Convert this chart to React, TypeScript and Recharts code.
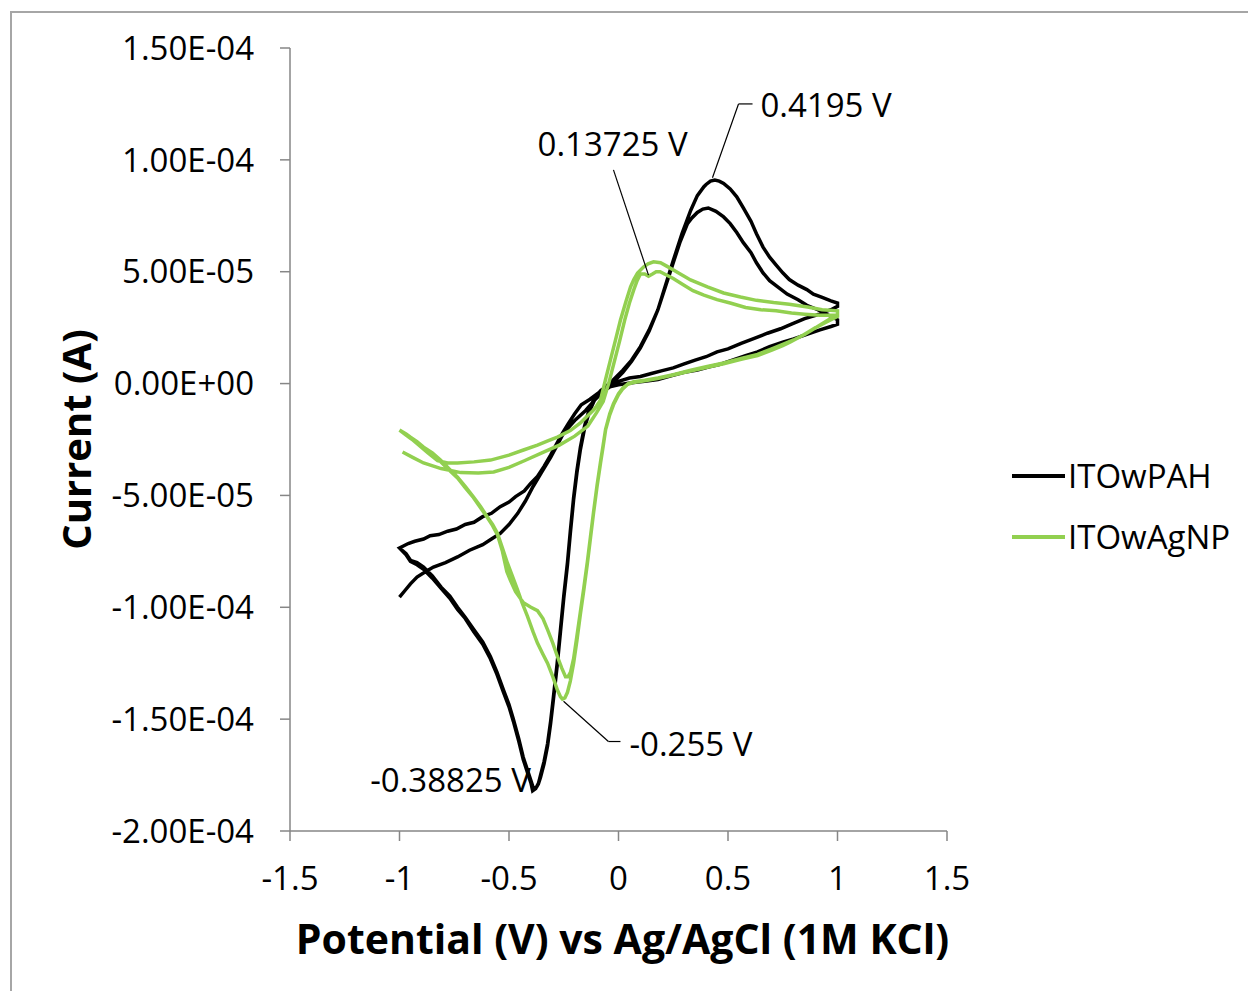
import React from 'react';
import { LineChart, Line, XAxis, YAxis, ReferenceLine, ReferenceDot, Legend, Label } from 'recharts';

const FONT = '"Open Sans", sans-serif';
const AMP = 1e-5; // current values below are in units of 1e-5 A

// [potential (V vs Ag/AgCl), current (1e-5 A)]
const PAH_CYCLE_1: [number, number][] = [
  [-1.0, -7.35], [-0.97, -7.6], [-0.95, -7.9], [-0.92, -8.0], [-0.89, -8.2], [-0.85, -8.6],
  [-0.81, -9.1], [-0.77, -9.5], [-0.735, -10.0], [-0.7, -10.45], [-0.66, -11.0], [-0.62, -11.55],
  [-0.585, -12.2], [-0.555, -12.9], [-0.525, -13.7], [-0.5, -14.35], [-0.48, -15.0], [-0.455, -15.9],
  [-0.435, -16.7], [-0.415, -17.3], [-0.4, -17.75], [-0.388, -18.1], [-0.375, -18.05], [-0.365, -17.85],
  [-0.356, -17.5], [-0.34, -16.9], [-0.324, -16.1], [-0.31, -15.1], [-0.297, -14.0], [-0.28, -12.5],
  [-0.265, -11.0], [-0.25, -9.5], [-0.233, -8.0], [-0.22, -6.6], [-0.205, -5.1], [-0.19, -3.9],
  [-0.174, -2.85], [-0.155, -1.9], [-0.135, -1.2], [-0.11, -0.65], [-0.08, -0.3], [-0.04, -0.05],
  [0.0, 0.1], [0.05, 0.25], [0.1, 0.32], [0.15, 0.45], [0.2, 0.58], [0.25, 0.7], [0.3, 0.88],
  [0.35, 1.05], [0.4, 1.2], [0.45, 1.42], [0.5, 1.55], [0.56, 1.8], [0.62, 2.02], [0.68, 2.25],
  [0.74, 2.45], [0.79, 2.66], [0.85, 2.9], [0.9, 3.05], [0.97, 3.3], [1.0, 3.45],
  [1.0, 3.6], [0.97, 3.7], [0.93, 3.85], [0.89, 4.0], [0.86, 4.2], [0.82, 4.4], [0.78, 4.65],
  [0.75, 4.95], [0.72, 5.3], [0.69, 5.65], [0.66, 6.1], [0.63, 6.7], [0.605, 7.25], [0.57, 7.85],
  [0.54, 8.35], [0.51, 8.7], [0.48, 8.95], [0.46, 9.05], [0.44, 9.1], [0.42, 9.05], [0.4, 8.9],
  [0.39, 8.8], [0.36, 8.4], [0.33, 7.75], [0.29, 6.7], [0.25, 5.5], [0.215, 4.4], [0.18, 3.3],
  [0.14, 2.4], [0.1, 1.65], [0.06, 1.05], [0.02, 0.6], [-0.03, 0.1], [-0.09, -0.4], [-0.13, -0.7],
  [-0.17, -0.95], [-0.2, -1.35], [-0.23, -1.8], [-0.255, -2.2], [-0.28, -2.65], [-0.31, -3.2],
  [-0.34, -3.7], [-0.37, -4.15], [-0.4, -4.45], [-0.43, -4.8], [-0.47, -5.05], [-0.5, -5.3],
  [-0.54, -5.5], [-0.58, -5.8], [-0.62, -5.95], [-0.66, -6.2], [-0.7, -6.3], [-0.74, -6.5],
  [-0.78, -6.6], [-0.82, -6.75], [-0.86, -6.8], [-0.89, -6.95], [-0.93, -7.05], [-0.96, -7.15],
  [-1.0, -7.35],
];

const PAH_CYCLE_2: [number, number][] = [
  [-1.0, -7.35], [-0.97, -7.65], [-0.95, -7.95], [-0.92, -8.1], [-0.89, -8.3], [-0.85, -8.7],
  [-0.81, -9.15], [-0.77, -9.6], [-0.735, -10.1], [-0.7, -10.5], [-0.66, -11.1], [-0.62, -11.65],
  [-0.585, -12.3], [-0.555, -13.0], [-0.525, -13.8], [-0.5, -14.45], [-0.48, -15.1], [-0.455, -16.0],
  [-0.435, -16.8], [-0.415, -17.4], [-0.4, -17.85], [-0.392, -18.2], [-0.378, -18.1], [-0.366, -17.9],
  [-0.356, -17.6], [-0.34, -17.0], [-0.324, -16.2], [-0.31, -15.2], [-0.297, -14.1], [-0.28, -12.6],
  [-0.265, -11.1], [-0.25, -9.6], [-0.233, -8.1], [-0.22, -6.7], [-0.205, -5.2], [-0.19, -4.0],
  [-0.174, -2.95], [-0.155, -2.0], [-0.135, -1.3], [-0.11, -0.75], [-0.08, -0.4], [-0.04, -0.15],
  [0.0, -0.05], [0.07, 0.05], [0.12, 0.1], [0.18, 0.18], [0.24, 0.35], [0.3, 0.5], [0.36, 0.6],
  [0.41, 0.74], [0.46, 0.85], [0.52, 1.05], [0.58, 1.25], [0.635, 1.42], [0.69, 1.65], [0.75, 1.85],
  [0.8, 2.0], [0.86, 2.2], [0.92, 2.4], [0.97, 2.55], [1.0, 2.65],
  [1.0, 2.85], [0.95, 3.1], [0.91, 3.3], [0.86, 3.5], [0.82, 3.75], [0.77, 4.0], [0.73, 4.3],
  [0.69, 4.6], [0.66, 4.95], [0.63, 5.4], [0.605, 5.85], [0.57, 6.3], [0.54, 6.75], [0.51, 7.15],
  [0.48, 7.45], [0.445, 7.7], [0.41, 7.85], [0.385, 7.8], [0.36, 7.65], [0.335, 7.4], [0.315, 7.15],
  [0.28, 6.3], [0.25, 5.4], [0.215, 4.35], [0.18, 3.3], [0.14, 2.35], [0.1, 1.6], [0.06, 1.0],
  [0.02, 0.5], [-0.03, 0.0], [-0.07, -0.35], [-0.11, -0.75], [-0.15, -1.2], [-0.2, -1.65],
  [-0.25, -2.2], [-0.28, -2.75], [-0.31, -3.3], [-0.35, -3.95], [-0.39, -4.6], [-0.425, -5.25],
  [-0.46, -5.8], [-0.5, -6.3], [-0.54, -6.7], [-0.58, -6.95], [-0.62, -7.2], [-0.68, -7.45],
  [-0.735, -7.75], [-0.79, -8.0], [-0.845, -8.2], [-0.88, -8.4], [-0.92, -8.65], [-0.95, -8.95],
  [-0.975, -9.25], [-1.0, -9.55],
];

const AGNP_CYCLE_1: [number, number][] = [
  [-1.0, -2.08], [-0.97, -2.25], [-0.95, -2.4], [-0.92, -2.6], [-0.89, -2.84], [-0.85, -3.1],
  [-0.813, -3.42], [-0.775, -3.8], [-0.735, -4.18], [-0.7, -4.6], [-0.662, -5.07], [-0.63, -5.5],
  [-0.598, -5.97], [-0.575, -6.3], [-0.553, -6.69], [-0.53, -7.35], [-0.507, -8.03], [-0.485, -8.6],
  [-0.461, -9.22], [-0.44, -9.8], [-0.416, -10.4], [-0.39, -11.1], [-0.37, -11.6], [-0.345, -12.1],
  [-0.324, -12.5], [-0.3, -13.1], [-0.279, -13.7], [-0.265, -14.0], [-0.256, -14.1], [-0.245, -14.05],
  [-0.233, -13.8], [-0.22, -13.3], [-0.205, -12.5], [-0.19, -11.5], [-0.174, -10.3], [-0.158, -9.2],
  [-0.142, -8.03], [-0.128, -6.9], [-0.114, -5.79], [-0.098, -4.6], [-0.082, -3.55], [-0.07, -2.8],
  [-0.059, -2.07], [-0.04, -1.4], [-0.023, -0.95], [0.0, -0.5], [0.018, -0.25], [0.04, -0.05],
  [0.068, 0.05], [0.12, 0.12], [0.178, 0.22], [0.25, 0.38], [0.329, 0.56], [0.4, 0.72], [0.48, 0.88],
  [0.56, 1.08], [0.635, 1.25], [0.7, 1.5], [0.75, 1.7], [0.785, 1.86], [0.84, 2.15], [0.9, 2.5],
  [0.95, 2.8], [1.0, 3.1],
  [1.0, 3.25], [0.93, 3.3], [0.863, 3.42], [0.78, 3.55], [0.708, 3.62], [0.63, 3.72], [0.557, 3.87],
  [0.48, 4.05], [0.406, 4.32], [0.329, 4.63], [0.29, 4.85], [0.251, 5.08], [0.22, 5.25], [0.192, 5.4],
  [0.16, 5.44], [0.135, 5.35], [0.114, 5.21], [0.087, 4.94], [0.07, 4.65], [0.055, 4.32], [0.035, 3.7],
  [0.009, 2.84], [-0.015, 1.9], [-0.037, 1.05], [-0.06, 0.15], [-0.082, -0.73], [-0.1, -1.0],
  [-0.114, -1.18], [-0.174, -1.76], [-0.22, -2.1], [-0.279, -2.39], [-0.32, -2.55], [-0.37, -2.75],
  [-0.434, -2.97], [-0.5, -3.2], [-0.584, -3.42], [-0.66, -3.5], [-0.735, -3.55], [-0.78, -3.55],
  [-0.826, -3.45], [-0.87, -3.1], [-0.918, -2.7], [-0.96, -2.35], [-1.0, -2.08],
];

const AGNP_CYCLE_2: [number, number][] = [
  [-1.0, -2.08], [-0.97, -2.3], [-0.95, -2.45], [-0.92, -2.65], [-0.89, -2.9], [-0.85, -3.15],
  [-0.813, -3.48], [-0.775, -3.85], [-0.735, -4.22], [-0.7, -4.65], [-0.662, -5.1], [-0.63, -5.55],
  [-0.598, -6.0], [-0.575, -6.35], [-0.553, -6.75], [-0.53, -7.5], [-0.51, -8.4], [-0.493, -8.8],
  [-0.47, -9.3], [-0.434, -9.8], [-0.4, -10.0], [-0.37, -10.15], [-0.345, -10.5], [-0.324, -11.0],
  [-0.3, -11.6], [-0.279, -12.2], [-0.26, -12.7], [-0.242, -13.1], [-0.23, -13.1], [-0.219, -12.9],
  [-0.205, -12.3], [-0.19, -11.3], [-0.174, -10.2], [-0.158, -9.1], [-0.142, -7.95], [-0.128, -6.85],
  [-0.114, -5.75], [-0.098, -4.55], [-0.082, -3.5], [-0.07, -2.75], [-0.059, -2.05], [-0.04, -1.35],
  [-0.023, -0.9], [0.0, -0.45], [0.02, -0.2], [0.045, 0.0], [0.07, 0.08], [0.12, 0.15], [0.18, 0.25],
  [0.25, 0.4], [0.33, 0.6], [0.4, 0.75], [0.48, 0.92], [0.56, 1.12], [0.635, 1.3], [0.7, 1.55],
  [0.75, 1.75], [0.8, 1.95], [0.85, 2.2], [0.9, 2.5], [0.95, 2.75], [1.0, 3.0],
  [1.0, 3.05], [0.92, 3.05], [0.85, 3.1], [0.79, 3.15], [0.72, 3.25], [0.65, 3.3], [0.58, 3.4],
  [0.51, 3.6], [0.45, 3.75], [0.39, 3.95], [0.34, 4.15], [0.29, 4.45], [0.25, 4.7], [0.21, 4.9],
  [0.19, 5.0], [0.172, 5.0], [0.155, 4.9], [0.137, 4.8], [0.12, 4.9], [0.1, 4.9], [0.085, 4.6],
  [0.07, 4.2], [0.05, 3.6], [0.03, 2.9], [0.005, 1.9], [-0.02, 0.95], [-0.045, 0.0], [-0.07, -0.8],
  [-0.1, -1.3], [-0.14, -1.9], [-0.2, -2.35], [-0.27, -2.75], [-0.35, -3.1], [-0.43, -3.45],
  [-0.5, -3.75], [-0.57, -3.95], [-0.64, -4.0], [-0.72, -3.98], [-0.81, -3.8], [-0.89, -3.55],
  [-0.94, -3.3], [-0.986, -3.06],
];

const X_TICKS = [-1.5, -1, -0.5, 0, 0.5, 1, 1.5];
const Y_TICKS = [-2e-4, -1.5e-4, -1e-4, -5e-5, 0, 5e-5, 1e-4, 1.5e-4];

const SERIES = [
  { name: 'ITOwPAH', color: '#000000', cycles: [PAH_CYCLE_1, PAH_CYCLE_2] },
  { name: 'ITOwAgNP', color: '#92D050', cycles: [AGNP_CYCLE_1, AGNP_CYCLE_2] },
];

// peak annotations: label text and anchor point (V, 1e-5 A)
const PEAK_LABELS = [
  { text: '0.4195 V', x: 0.648, y: 12.45, anchor: 'start' },
  { text: '0.13725 V', x: -0.027, y: 10.67, anchor: 'middle' },
  { text: '-0.255 V', x: 0.05, y: -16.15, anchor: 'start' },
  { text: '-0.38825 V', x: -0.4, y: -17.72, anchor: 'end' },
];
const LEADERS: [number, number][][] = [
  [[0.429, 9.2], [0.548, 12.5]],
  [[0.548, 12.5], [0.612, 12.5]],
  [[0.137, 4.85], [-0.023, 9.55]],
  [[-0.251, -14.2], [-0.046, -16.0]],
  [[-0.046, -16.0], [0.009, -16.0]],
];

const toRows = (pts: [number, number][]) => pts.map(([v, i]) => ({ v, i: i * AMP }));

const fmtY = (v: number) => {
  if (Math.abs(v) < 1e-12) return '0.00E+00';
  const [m, e] = v.toExponential(2).split('e');
  const n = parseInt(e, 10);
  return `${m}E${n < 0 ? '-' : '+'}${String(Math.abs(n)).padStart(2, '0')}`;
};

const AXIS_GRAY = '#868686';

export default function App() {
  return (
    <div style={{ position: 'absolute', left: 0, top: 0, width: 1248, height: 991, overflow: 'hidden', background: '#fff' }}>
      <div style={{ position: 'absolute', left: 10, top: 11, width: 1400, height: 1200, borderLeft: '2px solid #a6a6a6', borderTop: '2px solid #a6a6a6' }} />
      <div style={{ position: 'absolute', left: 0, top: 0 }}>
        <LineChart width={1248} height={991} margin={{ top: 48, right: 301, bottom: 100, left: 0 }}>
          <XAxis
            type="number"
            dataKey="v"
            domain={[-1.5, 1.5]}
            ticks={X_TICKS}
            allowDataOverflow
            height={60}
            tickSize={10}
            tickMargin={26}
            tickFormatter={(v: number) => String(v)}
            axisLine={{ stroke: AXIS_GRAY, strokeWidth: 1.5 }}
            tickLine={{ stroke: AXIS_GRAY, strokeWidth: 1.5 }}
            tick={{ fill: '#000', fontSize: 33, fontFamily: FONT }}
          >
            <Label
              content={(props: any) => {
                const vb = props.viewBox || { x: 290, y: 831, width: 657 };
                const cx = vb.x + vb.width / 2 + 4;
                const cy = vb.y + 107;
                return (
                  <text x={cx} y={cy} textAnchor="middle" dominantBaseline="central" fontFamily={FONT} fontWeight={700} fontSize={41} fill="#000">
                    Potential (V) vs Ag/AgCl (1M KCl)
                  </text>
                );
              }}
            />
          </XAxis>
          <YAxis
            type="number"
            domain={[-2e-4, 1.5e-4]}
            ticks={Y_TICKS}
            allowDataOverflow
            width={290}
            tickSize={10}
            tickMargin={26}
            tickFormatter={fmtY}
            axisLine={{ stroke: AXIS_GRAY, strokeWidth: 1.5 }}
            tickLine={{ stroke: AXIS_GRAY, strokeWidth: 1.5 }}
            tick={{ fill: '#000', fontSize: 33, fontFamily: FONT }}
          >
            <Label
              content={(props: any) => {
                const vb = props.viewBox || { x: 0, y: 48, height: 783 };
                const cx = vb.x + 75;
                const cy = vb.y + vb.height / 2;
                return (
                  <text x={cx} y={cy} transform={`rotate(-90 ${cx} ${cy})`} textAnchor="middle" dominantBaseline="central" fontFamily={FONT} fontWeight={700} fontSize={40} fill="#000">
                    Current (A)
                  </text>
                );
              }}
            />
          </YAxis>
          {SERIES.map((s) => (
            <Line
              key={s.name}
              name={s.name}
              data={toRows(s.cycles.flat())}
              dataKey="i"
              type="linear"
              stroke={s.color}
              strokeWidth={3.5}
              dot={false}
              activeDot={false}
              isAnimationActive={false}
              legendType="line"
            />
          ))}
          {LEADERS.map((seg, k) => (
            <ReferenceLine
              key={`ld${k}`}
              segment={seg.map(([x, y]) => ({ x, y: y * AMP }))}
              stroke="#000"
              strokeWidth={1.2}
              ifOverflow="visible"
            />
          ))}
          {PEAK_LABELS.map((p) => (
            <ReferenceDot
              key={p.text}
              x={p.x}
              y={p.y * AMP}
              r={0}
              ifOverflow="visible"
              shape={(props: any) => (
                <text x={props.cx} y={props.cy} dy="0.35em" textAnchor={p.anchor} fontFamily={FONT} fontSize={33} fill="#000">
                  {p.text}
                </text>
              )}
            />
          ))}
          <Legend
            layout="vertical"
            align="center"
            verticalAlign="middle"
            wrapperStyle={{ left: 1008, top: 445, width: 240, margin: 0 }}
            content={() => (
              <div style={{ fontFamily: FONT, fontSize: 33, color: '#000' }}>
                {SERIES.map((s) => (
                  <div key={s.name} style={{ display: 'flex', alignItems: 'center', height: 61 }}>
                    <svg width={58} height={8} style={{ display: 'block' }}>
                      <line x1={4} y1={4} x2={57} y2={4} stroke={s.color} strokeWidth={4} />
                    </svg>
                    <span style={{ marginLeft: 2, lineHeight: '40px' }}>{s.name}</span>
                  </div>
                ))}
              </div>
            )}
          />
        </LineChart>
      </div>
    </div>
  );
}
